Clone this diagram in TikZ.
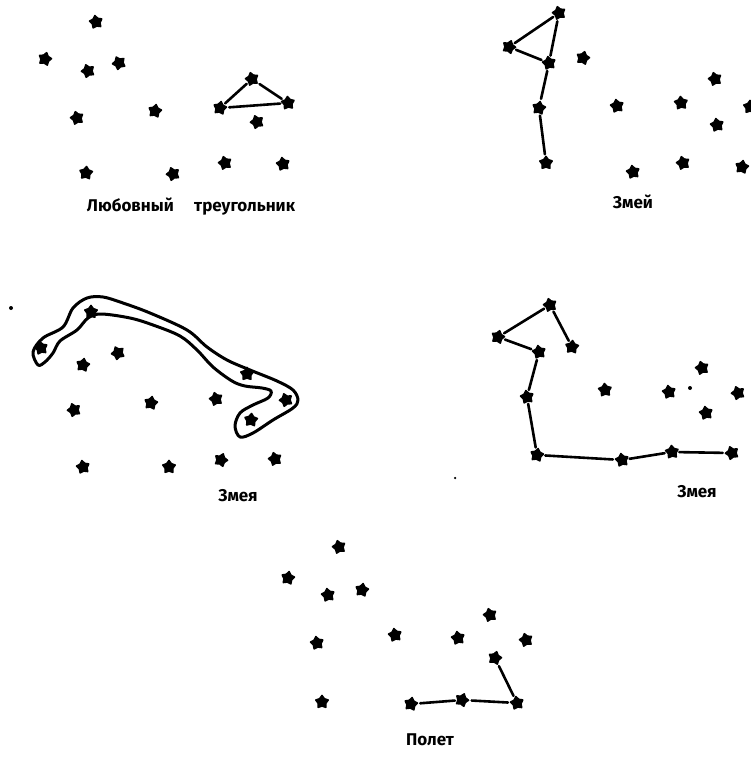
\documentclass[tikz,border=0pt]{standalone}
\usepackage{fontspec}
\newfontfamily\handfont{Fira Sans}
\usetikzlibrary{shapes.geometric}

\begin{document}
\begin{tikzpicture}[
    x=1pt, y=-1pt,
    starnode/.style={
        star, star points=5, star point ratio=1.6,
        fill=black, draw=black, line width=1.6pt, line join=round,
        minimum size=13pt, inner sep=0pt
    },
    speck/.style={circle, fill=black, inner sep=0pt, minimum size=4pt},
    link/.style={line width=2.6pt, line cap=round, shorten >=2pt, shorten <=2pt},
    loopline/.style={line width=3pt, line join=round},
    caption/.style={font=\handfont\bfseries\fontsize{17}{17}\selectfont, inner sep=0pt}
]
\useasboundingbox (0,0) rectangle (751,757);

% --- PANEL 1: love triangle ---
\foreach \x/\y/\r [count=\i] in {96/22/10, 45/59/-15, 88/71/20, 119/63/25, 77/118/15,
    155/111/-10, 86/173/-5, 173/174/20, 257/122/20, 225/163/15, 283/164/10}
    \node[starnode, rotate=\r] (one\i) at (\x,\y) {};
\node[starnode, rotate=15] (triA) at (252,79) {};
\node[starnode, rotate=-10] (triB) at (220,108) {};
\node[starnode, rotate=5] (triC) at (288,103) {};
\draw[link] (triA) -- (triB);
\draw[link] (triB) -- (triC);
\draw[link] (triC) -- (triA);
\node[caption] (capOne) at (191,207) {Любовный\hspace{1.2em}треугольник};

% --- PANEL 2: snake (hook) ---
\foreach \x/\y/\r [count=\i] in {583/58/-15, 617/106/10, 681/103/5, 715/79/15, 717/125/10,
    750/107/0, 633/172/10, 683/163/15, 742/167/-10}
    \node[starnode, rotate=\r] (two\i) at (\x,\y) {};
\node[starnode, rotate=15] (hookA) at (559,13) {};
\node[starnode, rotate=-20] (hookB) at (509,47) {};
\node[starnode, rotate=10] (hookC) at (549,63) {};
\node[starnode, rotate=-10] (hookD) at (539,108) {};
\node[starnode, rotate=0] (hookE) at (546,163) {};
\draw[link] (hookA) -- (hookB);
\draw[link] (hookB) -- (hookC);
\draw[link] (hookA) -- (hookC);
\draw[link] (hookC) -- (hookD);
\draw[link] (hookD) -- (hookE);
\node[caption] (capTwo) at (633,202) {Змей};

% --- PANEL 3: snake drawn as an outline ---
\node[speck] (dotThree) at (11,308) {};
\foreach \x/\y/\r [count=\i] in {91/312/0, 41/348/10, 83/365/-10, 118/353/25, 247/374/0,
    286/400/20, 251/420/-5, 74/410/20, 151/403/-10, 216/399/15, 83/467/10,
    169/467/0, 221/460/-20, 275/459/15}
    \node[starnode, rotate=\r] (three\i) at (\x,\y) {};
\draw[loopline] plot[smooth cycle, tension=0.55] coordinates {
    (38,365) (33,352) (43,338) (63,327) (73,308) (87,298) (103,297) (123,303)
    (150,313) (187,330) (207,347) (227,360) (250,370) (277,381) (293,390)
    (298,400) (293,408) (273,420) (253,433) (240,437) (235,426) (240,413)
    (253,405) (268,398) (271,391) (262,388) (245,386) (232,381) (213,367)
    (197,350) (180,336) (153,325) (130,318) (101,314) (88,318) (77,330)
    (60,341) (53,353) (45,362)};
\node[caption] (capThree) at (238,496) {Змея};

% --- PANEL 4: snake with a head ---
\node[speck] (dotFourA) at (690,388) {};
\node[speck, minimum size=2.5pt] (dotFourB) at (455,478) {};
\foreach \x/\y/\r [count=\i] in {605/390/5, 669/392/10, 702/368/15, 738/393/20, 706/413/10}
    \node[starnode, rotate=\r] (four\i) at (\x,\y) {};
\node[starnode, rotate=15] (headA) at (550,305) {};
\node[starnode, rotate=-15] (headB) at (498,337) {};
\node[starnode, rotate=10] (headC) at (539,352) {};
\node[starnode, rotate=-5] (headD) at (572,347) {};
\node[starnode, rotate=10] (bodyE) at (527,397) {};
\node[starnode, rotate=-10] (bodyF) at (537,455) {};
\node[starnode, rotate=10] (bodyG) at (622,460) {};
\node[starnode, rotate=5] (bodyH) at (672,452) {};
\node[starnode, rotate=20] (bodyI) at (732,453) {};
\draw[link] (headA) -- (headB);
\draw[link] (headB) -- (headC);
\draw[link] (headA) -- (headD);
\draw[link] (headC) -- (bodyE);
\draw[link] (bodyE) -- (bodyF);
\draw[link] (bodyF) -- (bodyG);
\draw[link] (bodyG) -- (bodyH);
\draw[link] (bodyH) -- (bodyI);
\node[caption] (capFour) at (697,492) {Змея};

% --- PANEL 5: flight ---
\foreach \x/\y/\r [count=\i] in {339/547/15, 288/578/-10, 328/595/10, 362/590/-10, 317/643/10,
    395/635/10, 458/638/10, 490/615/15, 526/640/15, 322/702/0}
    \node[starnode, rotate=\r] (five\i) at (\x,\y) {};
\node[starnode, rotate=-15] (flyA) at (495,658) {};
\node[starnode, rotate=10] (flyB) at (517,703) {};
\node[starnode, rotate=-20] (flyC) at (462,700) {};
\node[starnode, rotate=-10] (flyD) at (411,704) {};
\draw[link] (flyA) -- (flyB);
\draw[link] (flyB) -- (flyC);
\draw[link] (flyC) -- (flyD);
\node[caption] (capFive) at (430,740) {Полет};

\end{tikzpicture}
\end{document}
